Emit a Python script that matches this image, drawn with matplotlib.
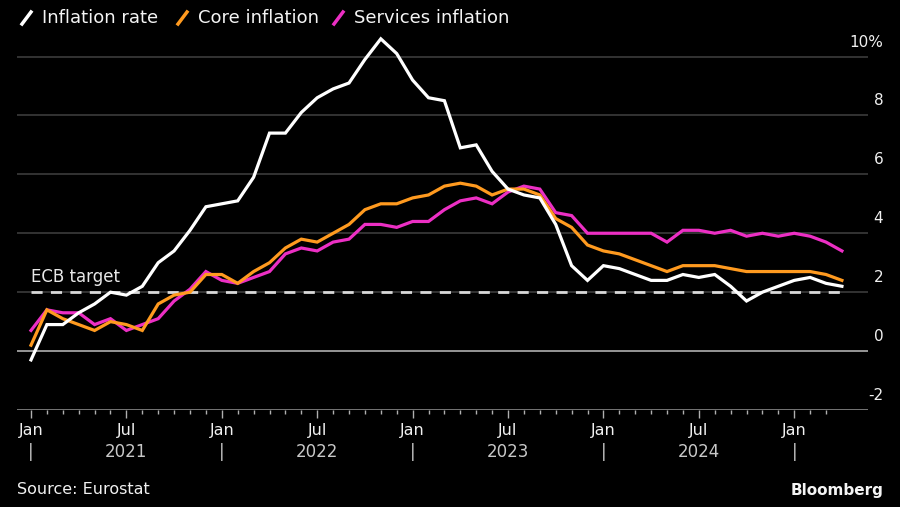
import matplotlib
matplotlib.use("Agg")
import matplotlib.pyplot as plt
from matplotlib.lines import Line2D

# Monthly data Dec 2020 .. Mar 2025 (plotted at month end)
inflation = [-0.3,
             0.9, 0.9, 1.3, 1.6, 2.0, 1.9, 2.2, 3.0, 3.4, 4.1, 4.9, 5.0,
             5.1, 5.9, 7.4, 7.4, 8.1, 8.6, 8.9, 9.1, 9.9, 10.6, 10.1, 9.2,
             8.6, 8.5, 6.9, 7.0, 6.1, 5.5, 5.3, 5.2, 4.3, 2.9, 2.4, 2.9,
             2.8, 2.6, 2.4, 2.4, 2.6, 2.5, 2.6, 2.2, 1.7, 2.0, 2.2, 2.4,
             2.5, 2.3, 2.2]
core = [0.2,
        1.4, 1.1, 0.9, 0.7, 1.0, 0.9, 0.7, 1.6, 1.9, 2.0, 2.6, 2.6,
        2.3, 2.7, 3.0, 3.5, 3.8, 3.7, 4.0, 4.3, 4.8, 5.0, 5.0, 5.2,
        5.3, 5.6, 5.7, 5.6, 5.3, 5.5, 5.5, 5.3, 4.5, 4.2, 3.6, 3.4,
        3.3, 3.1, 2.9, 2.7, 2.9, 2.9, 2.9, 2.8, 2.7, 2.7, 2.7, 2.7,
        2.7, 2.6, 2.4]
services = [0.7,
            1.4, 1.3, 1.3, 0.9, 1.1, 0.7, 0.9, 1.1, 1.7, 2.1, 2.7, 2.4,
            2.3, 2.5, 2.7, 3.3, 3.5, 3.4, 3.7, 3.8, 4.3, 4.3, 4.2, 4.4,
            4.4, 4.8, 5.1, 5.2, 5.0, 5.4, 5.6, 5.5, 4.7, 4.6, 4.0, 4.0,
            4.0, 4.0, 4.0, 3.7, 4.1, 4.1, 4.0, 4.1, 3.9, 4.0, 3.9, 4.0,
            3.9, 3.7, 3.4]
ecb_target = 2.0
yticks = [-2, 0, 2, 4, 6, 8, 10]
ytick_labels = ["-2", "0", "2", "4", "6", "8", "10%"]
month_labels = ["Jan", "Jul", "Jan", "Jul", "Jan", "Jul", "Jan", "Jul", "Jan"]
year_labels = ["2021", "2022", "2023", "2024"]

W, H = 900, 507
fig = plt.figure(figsize=(W / 100, H / 100), dpi=100, facecolor="black")
plt.rcParams['font.family'] = ['DejaVu Sans']

def px(x0, y0, x1, y1):
    return [x0 / W, 1 - y1 / H, (x1 - x0) / W, (y1 - y0) / H]

ax = fig.add_axes(px(17, 30, 868, 410))
ax.set_facecolor("black")
n = len(inflation)
x = list(range(n))
ax.set_xlim(-0.88, 52.64)
ax.set_ylim(-2, 10.9)

for v, lab in zip(yticks, ytick_labels):
    if v == 0:
        col = "#b0b0b0"
    elif v == -2:
        col = "#8a8a8a"
    else:
        col = "#3c3c3c"
    ax.axhline(v, color=col, lw=1.2, zorder=1)
    ax.annotate(lab, xy=(1, v), xycoords=("axes fraction", "data"),
                xytext=(11, 5), textcoords="offset points", ha="right", va="bottom",
                color="#f0f0f0", fontsize=11)

ax.plot([0, n - 1], [ecb_target, ecb_target], color="#d8d8d8", lw=2,
        dashes=(4, 3), zorder=2)
ax.text(0, ecb_target + 0.2, "ECB target", color="#e8e8e8", fontsize=12,
        ha="left", va="bottom")

ax.plot(x, services, color="#ec2fc4", lw=2.3, zorder=3, solid_joinstyle="miter")
ax.plot(x, core, color="#ff9a1f", lw=2.3, zorder=4, solid_joinstyle="miter")
ax.plot(x, inflation, color="#ffffff", lw=2.3, zorder=5, solid_joinstyle="miter")

for s in ax.spines.values():
    s.set_visible(False)
ax.set_yticks([])
major = [0, 6, 12, 18, 24, 30, 36, 42, 48]
ax.set_xticks(major)
ax.set_xticklabels(month_labels)
ax.set_xticks(list(range(0, 51)), minor=True)
ax.tick_params(axis="x", which="major", length=6, width=1, color="#b0b0b0",
               labelcolor="#f0f0f0", labelsize=11.5, pad=3)
ax.tick_params(axis="x", which="minor", length=3, width=1, color="#b0b0b0")

for i, yl in enumerate(year_labels):
    ax.annotate(yl, xy=(6 + 12 * i, 0), xycoords=("data", "axes fraction"),
                xytext=(0, -30.5), textcoords="offset points", ha="center", va="center",
                color="#c8c8c8", fontsize=12)
for j in range(0, 49, 12):
    ax.annotate("|", xy=(j, 0), xycoords=("data", "axes fraction"),
                xytext=(0, -30.5), textcoords="offset points", ha="center", va="center",
                color="#c8c8c8", fontsize=12)

# Legend
items = [("Inflation rate", "#ffffff", 22), ("Core inflation", "#ff9a1f", 178),
         ("Services inflation", "#ec2fc4", 334)]
for lab, col, x0 in items:
    fig.add_artist(Line2D([x0 / W, (x0 + 9) / W], [1 - 24 / H, 1 - 12 / H],
                          color=col, lw=2.5, transform=fig.transFigure))
    fig.text((x0 + 20) / W, 1 - 18 / H, lab, color="#f4f4f4", fontsize=13,
             ha="left", va="center")

fig.text(17 / W, 1 - 490 / H, "Source: Eurostat", color="#f0f0f0", fontsize=11.5,
         ha="left", va="center")
fig.text(884 / W, 1 - 491 / H, "Bloomberg", color="#f4f4f4", fontsize=11,
         ha="right", va="center", fontweight="bold")

fig.savefig("out.png", dpi=100, facecolor="black")
